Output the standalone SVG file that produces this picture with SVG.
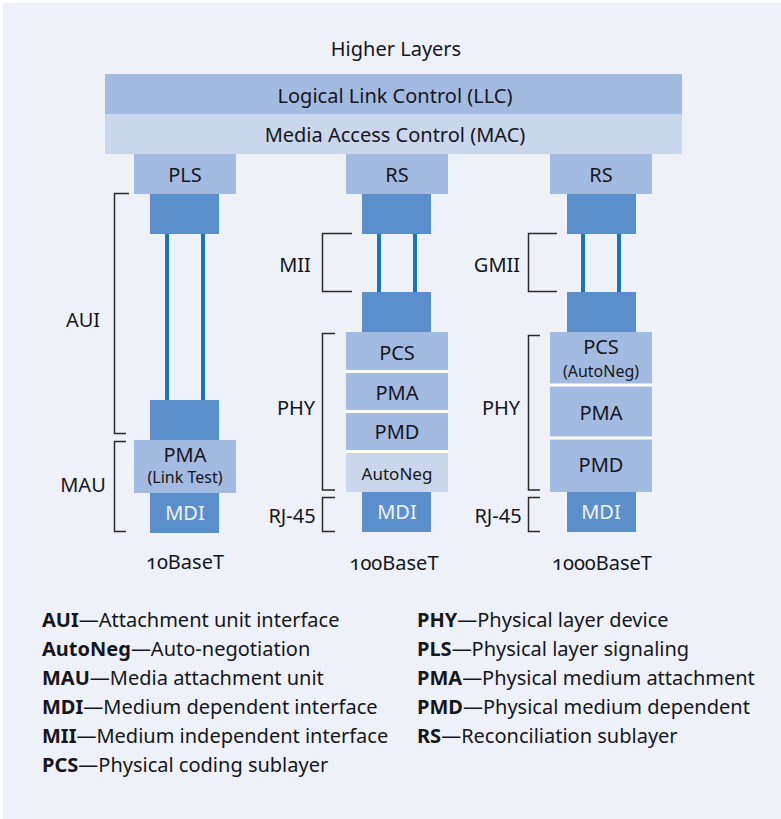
<svg xmlns="http://www.w3.org/2000/svg" width="781" height="819" viewBox="0 0 781 819">
<defs>
<style>
text{font-family:"Noto Sans","Liberation Sans",sans-serif;fill:#15161c;}
.t{font-size:20px;text-anchor:middle;}
.s{font-size:16px;text-anchor:middle;}
.w{fill:#eef3fb;}
.mid{fill:#a3bbe0;}
.lt{fill:#c9d6ec;}
.dk{fill:#5a8fcb;}
.br{fill:none;stroke:#2a2a2a;stroke-width:1.5;}
.wire{stroke:#1876bf;stroke-width:4;}
.gap{stroke:#ffffff;stroke-width:3;}
.lg{font-size:20px;}
.lg tspan.b{font-weight:bold;}
.on{font-variant-numeric:oldstyle-nums;}
</style>
</defs>
<rect x="0" y="0" width="781" height="819" fill="#ffffff"/>
<rect x="3" y="3" width="778" height="816" fill="#eef1f8"/>

<g id="higher-layers"><text class="t" x="396" y="56">Higher Layers</text></g>
<g id="llc"><rect class="mid" x="105" y="74" width="577" height="40"/><text class="t" x="395" y="103">Logical Link Control (LLC)</text></g>
<g id="mac"><rect class="lt" x="105" y="114" width="577" height="40"/><text class="t" x="395" y="142">Media Access Control (MAC)</text></g>

<!-- column 1 -->
<g id="pls"><rect class="mid" x="134" y="154" width="102" height="40"/><text class="t" x="185" y="182">PLS</text></g>
<g id="aui-top"><rect class="dk" x="150" y="194" width="69" height="40"/></g>
<g id="aui-bottom"><rect class="dk" x="150" y="400" width="69" height="40"/></g>
<g id="pma-linktest"><rect class="mid" x="134" y="440" width="102" height="53"/><text class="t" x="185" y="462">PMA</text><text class="s" x="185" y="483">(Link Test)</text></g>
<g id="mdi-1"><rect class="dk" x="150" y="493" width="69" height="40"/><text class="t w" x="185" y="520">MDI</text></g>
<g id="label-10"><text class="t on" x="185" y="569">10BaseT</text></g>

<!-- column 2 -->
<g id="rs-1"><rect class="mid" x="346" y="154" width="102" height="40"/><text class="t" x="397" y="182">RS</text></g>
<g id="mii-top"><rect class="dk" x="362" y="194" width="69" height="40"/></g>
<g id="mii-bottom"><rect class="dk" x="362" y="292" width="69" height="40"/></g>
<g id="pcs-1"><rect class="mid" x="346" y="332" width="102" height="40"/><text class="t" x="397" y="360">PCS</text></g>
<g id="pma-1"><rect class="mid" x="346" y="372" width="102" height="40"/><text class="t" x="397" y="400">PMA</text></g>
<g id="pmd-1"><rect class="mid" x="346" y="412" width="102" height="40"/><text class="t" x="397" y="439">PMD</text></g>
<g id="autoneg-1"><rect class="lt" x="346" y="452" width="102" height="40"/><text class="s" x="397" y="480" style="font-size:17px">AutoNeg</text></g>
<g id="mdi-2"><rect class="dk" x="362" y="492" width="69" height="40"/><text class="t w" x="397" y="519">MDI</text></g>
<g id="label-100"><text class="t on" x="394" y="570">100BaseT</text></g>

<!-- column 3 -->
<g id="rs-2"><rect class="mid" x="550" y="154" width="102" height="40"/><text class="t" x="601" y="182">RS</text></g>
<g id="gmii-top"><rect class="dk" x="567" y="194" width="69" height="40"/></g>
<g id="gmii-bottom"><rect class="dk" x="567" y="292" width="69" height="40"/></g>
<g id="pcs-2"><rect class="mid" x="550" y="332" width="102" height="53"/><text class="t" x="601" y="354">PCS</text><text class="s" x="601" y="377">(AutoNeg)</text></g>
<g id="pma-2"><rect class="mid" x="550" y="385" width="102" height="53"/><text class="t" x="601" y="420">PMA</text></g>
<g id="pmd-2"><rect class="mid" x="550" y="438" width="102" height="54"/><text class="t" x="601" y="472">PMD</text></g>
<g id="mdi-3"><rect class="dk" x="567" y="492" width="69" height="40"/><text class="t w" x="601" y="519">MDI</text></g>
<g id="label-1000"><text class="t on" x="602" y="570">1000BaseT</text></g>

<!-- separators between stacked sublayers -->
<g id="separators">
<line class="gap" x1="346" y1="371.5" x2="448" y2="371.5"/>
<line class="gap" x1="346" y1="411.5" x2="448" y2="411.5"/>
<line class="gap" x1="346" y1="451.5" x2="448" y2="451.5"/>
<line class="gap" x1="550" y1="385" x2="652" y2="385"/>
<line class="gap" x1="550" y1="438" x2="652" y2="438"/>
</g>

<g id="connectors">
<line class="wire" x1="167" y1="234" x2="167" y2="400"/>
<line class="wire" x1="203" y1="234" x2="203" y2="400"/>
<line class="wire" x1="379" y1="234" x2="379" y2="292"/>
<line class="wire" x1="415" y1="234" x2="415" y2="292"/>
<line class="wire" x1="583" y1="234" x2="583" y2="292"/>
<line class="wire" x1="619" y1="234" x2="619" y2="292"/>
</g>

<g id="brackets">
<path class="br" d="M129,193.5 H114.5 V433.5 H126"/>
<path class="br" d="M126,441.5 H114.5 V531.5 H126"/>
<path class="br" d="M352,233.5 H322.5 V291.5 H352"/>
<path class="br" d="M335,333.5 H322.5 V490 H335"/>
<path class="br" d="M335,497.5 H322.5 V531.5 H335"/>
<path class="br" d="M557,233.5 H528.5 V291.5 H557"/>
<path class="br" d="M540,335.5 H528.5 V490 H540"/>
<path class="br" d="M540,497.5 H528.5 V531.5 H540"/>
<text class="t" x="83" y="327">AUI</text>
<text class="t" x="83" y="492">MAU</text>
<text class="t" x="295" y="272">MII</text>
<text class="t" x="296" y="415">PHY</text>
<text class="t" x="292" y="523">RJ-45</text>
<text class="t" x="497" y="272">GMII</text>
<text class="t" x="501" y="415">PHY</text>
<text class="t" x="498" y="523">RJ-45</text>
</g>

<g id="legend">
<text class="lg" x="42" y="627"><tspan class="b">AUI</tspan>—Attachment unit interface</text>
<text class="lg" x="42" y="656"><tspan class="b">AutoNeg</tspan>—Auto-negotiation</text>
<text class="lg" x="42" y="685"><tspan class="b">MAU</tspan>—Media attachment unit</text>
<text class="lg" x="42" y="714"><tspan class="b">MDI</tspan>—Medium dependent interface</text>
<text class="lg" x="42" y="743"><tspan class="b">MII</tspan>—Medium independent interface</text>
<text class="lg" x="42" y="772"><tspan class="b">PCS</tspan>—Physical coding sublayer</text>
<text class="lg" x="417" y="627"><tspan class="b">PHY</tspan>—Physical layer device</text>
<text class="lg" x="417" y="656"><tspan class="b">PLS</tspan>—Physical layer signaling</text>
<text class="lg" x="417" y="685"><tspan class="b">PMA</tspan>—Physical medium attachment</text>
<text class="lg" x="417" y="714"><tspan class="b">PMD</tspan>—Physical medium dependent</text>
<text class="lg" x="417" y="743"><tspan class="b">RS</tspan>—Reconciliation sublayer</text>
</g>
</svg>
